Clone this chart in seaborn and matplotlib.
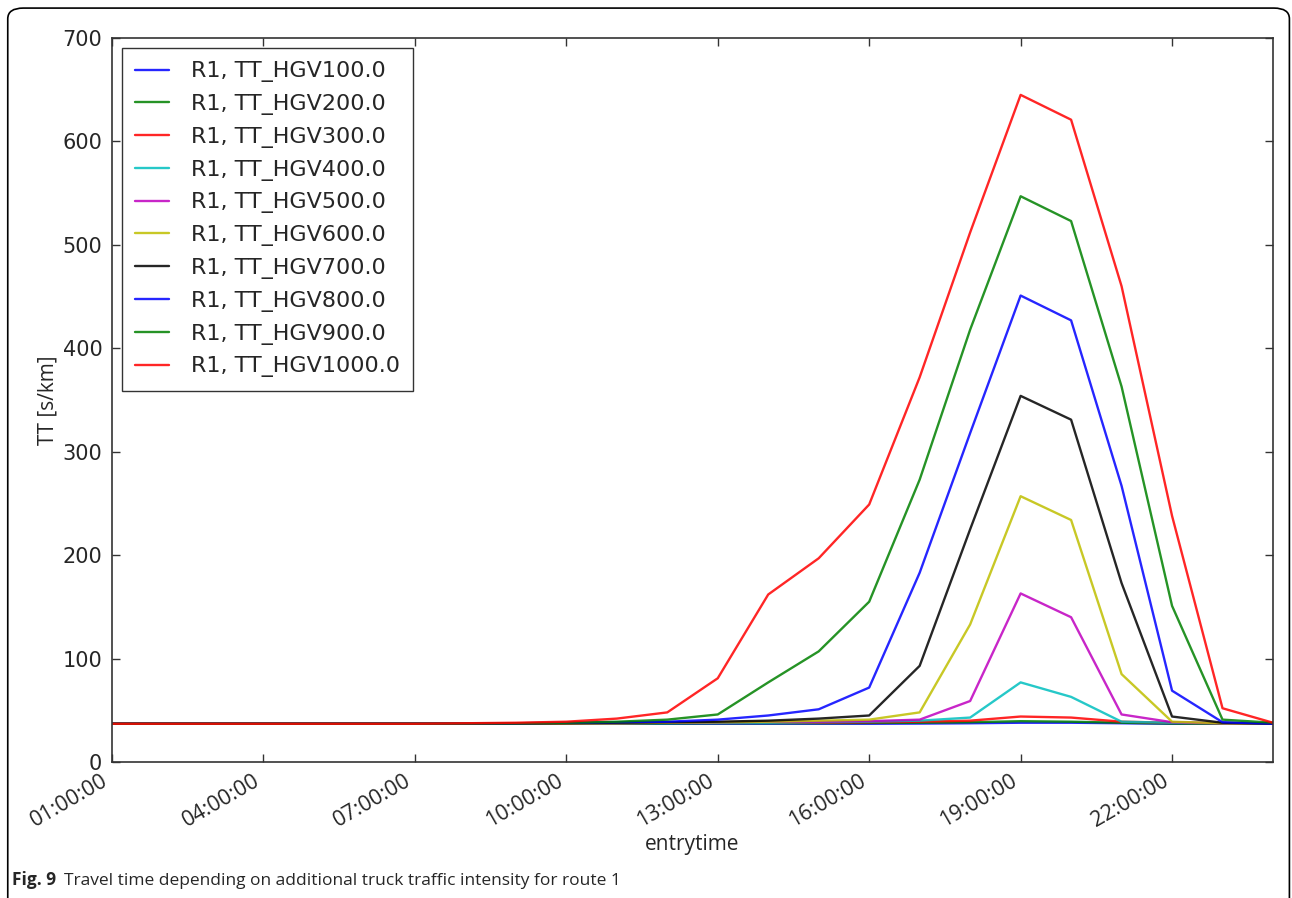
import pandas as pd
import numpy as np
import matplotlib
matplotlib.use("Agg")
import matplotlib.pyplot as plt
import matplotlib.dates as mdates
from matplotlib.patches import FancyBboxPatch
import seaborn as sns

# hourly entry times 01:00 .. 24:00
hours = list(range(1, 25))

series_names = [
    "R1, TT_HGV100.0", "R1, TT_HGV200.0", "R1, TT_HGV300.0", "R1, TT_HGV400.0",
    "R1, TT_HGV500.0", "R1, TT_HGV600.0", "R1, TT_HGV700.0", "R1, TT_HGV800.0",
    "R1, TT_HGV900.0", "R1, TT_HGV1000.0",
]
series_colors = ["#0000ff", "#008000", "#ff0000", "#00bfbf", "#bf00bf",
                 "#bfbf00", "#000000", "#0000ff", "#008000", "#ff0000"]

#              1   2   3   4   5   6   7   8     9     10    11    12    13    14    15    16    17    18    19    20    21    22    23    24
tt_hgv100 = [37, 37, 37, 37, 37, 37, 37, 37, 37, 37, 37, 37, 37, 37, 37, 37, 37.2, 37.5, 38, 38, 37.5, 37, 37, 37]
tt_hgv200 = [37, 37, 37, 37, 37, 37, 37, 37, 37, 37, 37, 37.3, 37.5, 37.5, 37.5, 37.8, 38, 38.5, 39.5, 39, 38, 37.2, 37, 37]
tt_hgv300 = [37, 37, 37, 37, 37, 37, 37, 37, 37, 37.2, 37.5, 38, 38, 38, 38, 38.5, 39, 40, 44, 43, 39, 38, 37.5, 37]
tt_hgv400 = [37, 37, 37, 37, 37, 37, 37, 37, 37, 37.2, 37.5, 37.8, 38, 38, 38.5, 39, 40, 43, 77, 63, 39, 38, 37.5, 37]
tt_hgv500 = [37, 37, 37, 37, 37, 37, 37, 37, 37, 37.3, 37.6, 38, 38.5, 39, 39, 39.5, 41, 59, 163, 140, 46, 38.5, 37.5, 37]
tt_hgv600 = [37, 37, 37, 37, 37, 37, 37, 37, 37, 37.3, 37.6, 38, 38.5, 39, 40, 41, 48, 133, 257, 234, 85, 39, 37.5, 37]
tt_hgv700 = [37, 37, 37, 37, 37, 37, 37, 37, 37.2, 37.5, 38, 38.5, 39, 40, 42, 45, 93, 225, 354, 331, 173, 44, 38, 37]
tt_hgv800 = [37, 37, 37, 37, 37, 37, 37, 37.2, 37.5, 38, 38.5, 39, 41, 45, 51, 72, 183, 318, 451, 427, 267, 69, 38.5, 37]
tt_hgv900 = [37, 37, 37, 37, 37, 37, 37, 37.2, 37.5, 38, 39, 41, 46, 77, 107, 155, 273, 418, 547, 523, 363, 151, 41, 38]
tt_hgv1000 = [37, 37, 37, 37, 37, 37, 37, 37.5, 38, 39, 42, 48, 81, 162, 197, 249, 372, 512, 645, 621, 460, 238, 52, 38]

all_series = [tt_hgv100, tt_hgv200, tt_hgv300, tt_hgv400, tt_hgv500,
              tt_hgv600, tt_hgv700, tt_hgv800, tt_hgv900, tt_hgv1000]

# long-form table for seaborn
times = pd.Timestamp("2016-01-01") + pd.to_timedelta(hours, unit="h")
frames = []
for name, vals in zip(series_names, all_series):
    frames.append(pd.DataFrame({"entrytime": times, "TT": vals, "series": name}))
df = pd.concat(frames, ignore_index=True)

sns.set_style("ticks")
plt.rcParams["font.family"] = ["DejaVu Sans"]
plt.rcParams["xtick.direction"] = "in"
plt.rcParams["ytick.direction"] = "in"

fig = plt.figure(figsize=(12.92, 8.98), dpi=100)
ax = fig.add_axes([0.0867, 0.1514, 0.8986, 0.8063])

sns.lineplot(data=df, x="entrytime", y="TT", hue="series", hue_order=series_names,
             palette=dict(zip(series_names, series_colors)), linewidth=1.7,
             alpha=0.85, ax=ax, legend=True)

ax.set_ylim(0, 700)
ax.set_xlim(times[0], times[-1])
ax.set_yticks(range(0, 701, 100))
ax.xaxis.set_major_locator(mdates.HourLocator(byhour=range(1, 24, 3)))
ax.xaxis.set_major_formatter(mdates.DateFormatter("%H:%M:%S"))
ax.tick_params(axis="both", which="major", length=6, width=1, color="#333333",
               top=True, right=True)
ax.tick_params(axis="y", labelsize=15, pad=7)
ax.tick_params(axis="x", pad=6)
for lbl in ax.get_xticklabels():
    lbl.set_rotation(30)
    lbl.set_ha("right")
    lbl.set_fontsize(15.5)
    lbl.set_family("Open Sans")
for sp in ax.spines.values():
    sp.set_visible(True)
    sp.set_color("#333333")
    sp.set_linewidth(1.2)

ax.set_xlabel("entrytime", fontsize=15, family="Open Sans", labelpad=2)
ax.set_ylabel("TT [s/km]", fontsize=15, family="Open Sans", labelpad=3)

leg = ax.legend(loc="upper left", fontsize=16, frameon=True, fancybox=False,
                handlelength=1.5, handletextpad=1.0, labelspacing=0.53,
                borderaxespad=0.45, borderpad=0.6)
leg.get_frame().set_edgecolor("black")
leg.get_frame().set_linewidth(1.0)
for h in leg.get_lines():
    h.set_linewidth(1.7)

# rounded frame around the figure and caption
frame = FancyBboxPatch((0.006, -0.02), 0.992, 1.011,
                       boxstyle="round,pad=0,rounding_size=0.012",
                       transform=fig.transFigure, fill=False,
                       edgecolor="black", linewidth=1.2, clip_on=False)
fig.patches.append(frame)
fig.text(0.0095, 0.014, "Fig. 9", fontsize=12.5, fontweight="bold",
         family="Open Sans", va="baseline")
fig.text(0.0495, 0.014, "Travel time depending on additional truck traffic intensity for route 1",
         fontsize=12.5, family="Open Sans", va="baseline")

fig.savefig("out.png", dpi=100)
